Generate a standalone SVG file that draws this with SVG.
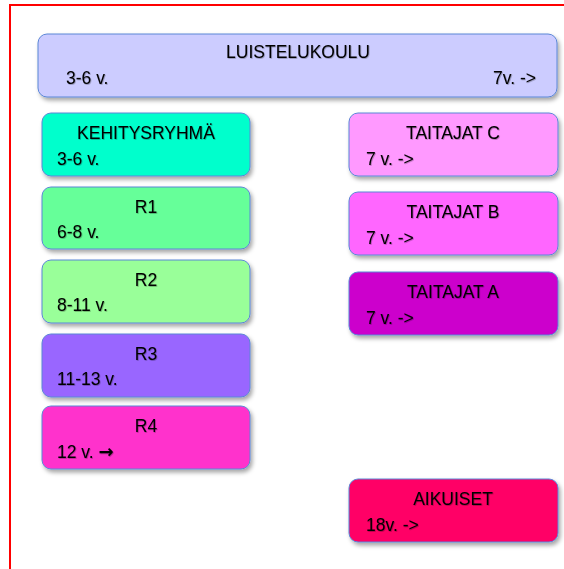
<svg xmlns="http://www.w3.org/2000/svg" width="564" height="569" viewBox="0 0 564 569">
<defs>
<filter id="sh" x="-10%" y="-10%" width="125%" height="135%">
<feDropShadow dx="2" dy="3" stdDeviation="2" flood-color="#000" flood-opacity="0.35"/>
</filter>
<filter id="ts" x="-5%" y="-20%" width="110%" height="150%">
<feDropShadow dx="0.7" dy="0.7" stdDeviation="0.5" flood-color="#000" flood-opacity="0.35"/>
</filter>
</defs>
<style>
.box{stroke:#5b86d6;stroke-width:1;filter:url(#sh)}
text{font-family:"Liberation Sans",Arial,sans-serif;font-size:17.5px;fill:#000;filter:url(#ts)}
.c{text-anchor:middle}
.ar{font-family:"DejaVu Sans",sans-serif;font-weight:bold;font-size:18px}
</style>
<rect x="0" y="0" width="564" height="569" fill="#fff"/>
<path d="M10,569 V5 H564" fill="none" stroke="#ff0000" stroke-width="2"/>
<g id="luistelukoulu">
<rect class="box" x="38" y="34" width="519" height="63" rx="9" fill="#ccccff"/>
<text class="c" x="298" y="58">LUISTELUKOULU</text>
<text x="66" y="84">3-6 v.</text>
<text x="536" y="84" text-anchor="end">7v. -&gt;</text>
</g>
<g id="kehitysryhma">
<rect class="box" x="42" y="113" width="208" height="63" rx="9" fill="#00ffcc"/>
<text class="c" x="146" y="139">KEHITYSRYHMÄ</text>
<text x="57" y="165">3-6 v.</text>
</g>
<g id="r1">
<rect class="box" x="42" y="187" width="208" height="62" rx="9" fill="#66ff99"/>
<text class="c" x="146" y="213">R1</text>
<text x="57" y="238">6-8 v.</text>
</g>
<g id="r2">
<rect class="box" x="42" y="260" width="208" height="63" rx="9" fill="#99ff99"/>
<text class="c" x="146" y="286">R2</text>
<text x="57" y="311">8-11 v.</text>
</g>
<g id="r3">
<rect class="box" x="42" y="334" width="208" height="63" rx="9" fill="#9966ff"/>
<text class="c" x="146" y="360">R3</text>
<text x="57" y="385">11-13 v.</text>
</g>
<g id="r4">
<rect class="box" x="42" y="406" width="208" height="63" rx="9" fill="#ff33cc"/>
<text class="c" x="146" y="432">R4</text>
<text x="57" y="458">12 v. <tspan class="ar">→</tspan></text>
</g>
<g id="taitajat-c">
<rect class="box" x="349" y="113" width="209" height="63" rx="9" fill="#ff99ff"/>
<text class="c" x="453" y="139">TAITAJAT C</text>
<text x="366" y="165">7 v. -&gt;</text>
</g>
<g id="taitajat-b">
<rect class="box" x="349" y="192" width="209" height="63" rx="9" fill="#ff66ff"/>
<text class="c" x="453" y="218">TAITAJAT B</text>
<text x="366" y="244">7 v. -&gt;</text>
</g>
<g id="taitajat-a">
<rect class="box" x="349" y="272" width="209" height="63" rx="9" fill="#cc00cc"/>
<text class="c" x="453" y="298">TAITAJAT A</text>
<text x="366" y="324">7 v. -&gt;</text>
</g>
<g id="aikuiset">
<rect class="box" x="349" y="479" width="209" height="63" rx="9" fill="#ff0066"/>
<text class="c" x="453" y="505">AIKUISET</text>
<text x="366" y="531">18v. -&gt;</text>
</g>
<g id="connectors"></g>
</svg>
